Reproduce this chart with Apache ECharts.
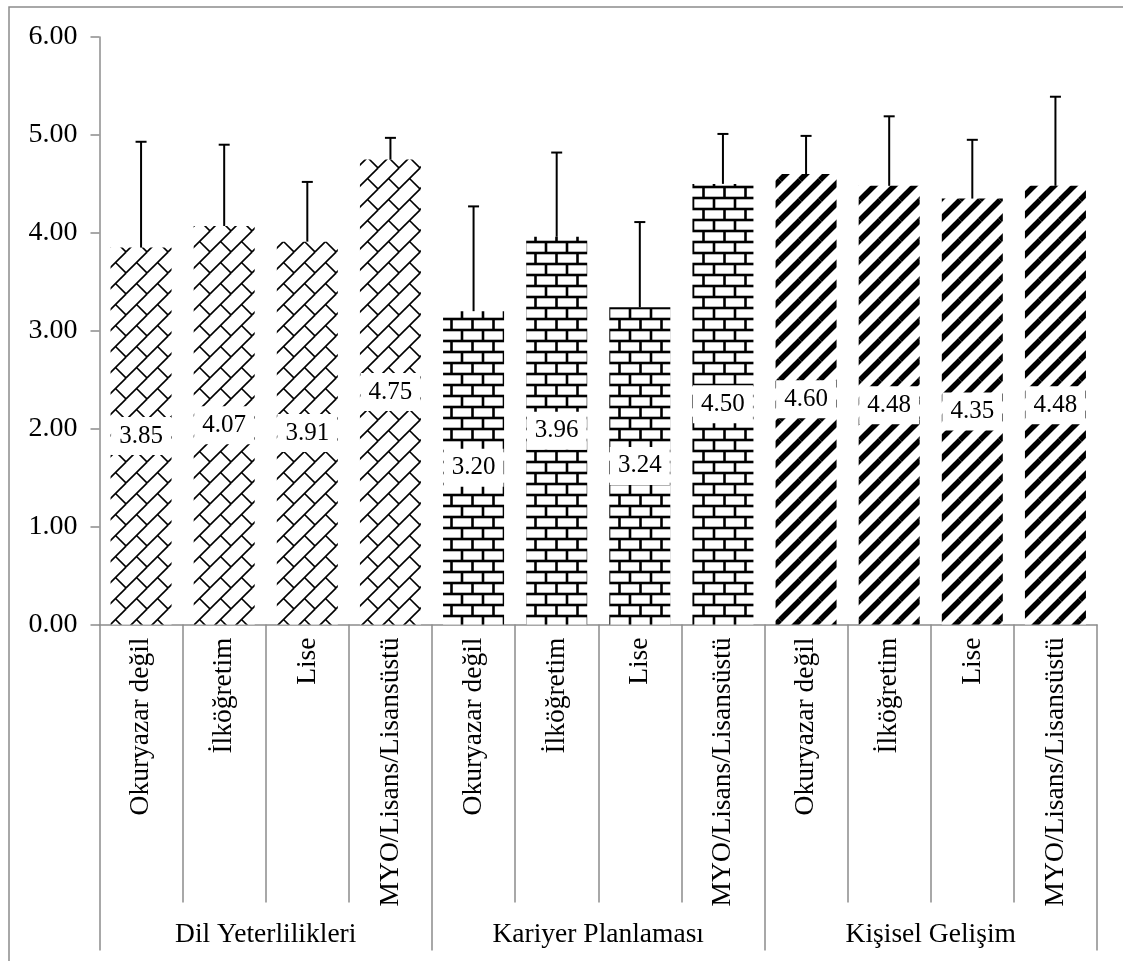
<!DOCTYPE html>
<html>
<head>
<meta charset="utf-8">
<script src="https://cdn.jsdelivr.net/npm/echarts@6/dist/echarts.min.js"></script>
<style>
  html, body { margin: 0; padding: 0; background: #fff; }
  #chart { width: 1123px; height: 961px; }
</style>
</head>
<body>
<div id="chart"></div>
<script>
// veriler
const groups = ['Dil Yeterlilikleri', 'Kariyer Planlaması', 'Kişisel Gelişim'];
const levels = ['Okuryazar değil', 'İlköğretim', 'Lise', 'MYO/Lisans/Lisansüstü'];
const means = [3.85, 4.07, 3.91, 4.75, 3.20, 3.96, 3.24, 4.50, 4.60, 4.48, 4.35, 4.48];
const sds = [1.08, 0.83, 0.61, 0.22, 1.07, 0.86, 0.87, 0.51, 0.39, 0.71, 0.60, 0.91];
const yTicks = [0, 1, 2, 3, 4, 5, 6];

const categories = [];
groups.forEach(() => levels.forEach(l => categories.push(l)));

const FONT = '"Liberation Serif", "Times New Roman", serif';
const GRAY = '#8c8c8c';

// desen dokuları
function makeTile(w, h, draw) {
  const c = document.createElement('canvas');
  c.width = w; c.height = h;
  const ctx = c.getContext('2d');
  ctx.fillStyle = '#fff';
  ctx.fillRect(0, 0, w, h);
  ctx.strokeStyle = '#000';
  draw(ctx, w, h);
  return c;
}
function seg(ctx, w, h, x1, y1, x2, y2) {
  // kenarlarda kesilmesin diye komşu kopyaları da çiz
  for (let dx = -1; dx <= 1; dx++) {
    for (let dy = -1; dy <= 1; dy++) {
      ctx.beginPath();
      ctx.moveTo(x1 + dx * w, y1 + dy * h);
      ctx.lineTo(x2 + dx * w, y2 + dy * h);
      ctx.stroke();
    }
  }
}
const diagBrick = makeTile(21, 21, (ctx, w, h) => {
  ctx.lineWidth = 1.6;
  seg(ctx, w, h, 0, h, w, 0);
  seg(ctx, w, h, w / 2, h / 2, w, h);
});
const horizBrick = makeTile(21, 22, (ctx, w, h) => {
  ctx.lineWidth = 2.6;
  seg(ctx, w, h, 0, 0, w, 0);
  seg(ctx, w, h, 0, h / 2, w, h / 2);
  seg(ctx, w, h, 0, 0, 0, h / 2);
  seg(ctx, w, h, w / 2, h / 2, w / 2, h);
});
const wideDiag = makeTile(20, 20, (ctx, w, h) => {
  ctx.lineWidth = 5.5;
  seg(ctx, w, h, 0, h, w, 0);
});
const patterns = [diagBrick, horizBrick, wideDiag];

const barData = means.map((v, i) => ({
  value: v,
  itemStyle: { color: { image: patterns[Math.floor(i / levels.length)], repeat: 'repeat' } }
}));
const errData = means.map((v, i) => [i, v, sds[i]]);

const myChart = echarts.init(document.getElementById('chart'));
myChart.setOption({
  animation: false,
  backgroundColor: '#fff',
  graphic: [{
    type: 'rect',
    shape: { x: 9, y: 7, width: 1300, height: 1100 },
    style: { fill: 'none', stroke: GRAY, lineWidth: 1.5 },
    silent: true
  }],
  grid: { left: 99.5, right: 26, top: 37, bottom: 336.5 },
  xAxis: [
    {
      type: 'category',
      data: categories,
      axisLine: { show: true, lineStyle: { color: GRAY, width: 1.5 } },
      axisTick: { show: true, interval: 0, length: 278, lineStyle: { color: GRAY, width: 1.5 } },
      axisLabel: {
        interval: 0, rotate: 90, margin: 13,
        color: '#000', fontFamily: FONT, fontSize: 27.5
      }
    },
    {
      type: 'category',
      position: 'bottom',
      data: groups,
      axisLine: { show: false },
      axisTick: { show: true, interval: 0, length: 326, lineStyle: { color: GRAY, width: 1.5 } },
      axisLabel: {
        interval: 0, margin: 296, verticalAlign: 'top',
        color: '#000', fontFamily: FONT, fontSize: 27.5
      }
    }
  ],
  yAxis: {
    type: 'value',
    min: yTicks[0], max: yTicks[yTicks.length - 1], interval: 1,
    splitLine: { show: false },
    axisLine: { show: true, lineStyle: { color: GRAY, width: 1.5 } },
    axisTick: { show: true, length: 9, lineStyle: { color: GRAY, width: 1.5 } },
    axisLabel: {
      margin: 22, color: '#000', fontFamily: FONT, fontSize: 28,
      formatter: v => v.toFixed(2)
    }
  },
  series: [
    {
      type: 'bar',
      xAxisIndex: 0,
      data: barData,
      barWidth: 61,
      label: {
        show: true,
        position: 'inside',
        formatter: p => p.value.toFixed(2),
        color: '#000',
        fontFamily: FONT,
        fontSize: 25,
        backgroundColor: '#fff',
        width: 58,
        height: 38,
        lineHeight: 38,
        align: 'center',
        padding: [0, 1]
      }
    },
    {
      type: 'custom',
      xAxisIndex: 0,
      data: errData,
      z: 5,
      clip: false,
      renderItem: (params, api) => {
        const i = api.value(0);
        const v = api.value(1);
        const sd = api.value(2);
        const p0 = api.coord([i, v]);
        const p1 = api.coord([i, v + sd]);
        const st = { stroke: '#000', lineWidth: 2 };
        return {
          type: 'group',
          children: [
            { type: 'line', shape: { x1: p0[0], y1: p0[1], x2: p1[0], y2: p1[1] }, style: st },
            { type: 'line', shape: { x1: p1[0] - 5.5, y1: p1[1], x2: p1[0] + 5.5, y2: p1[1] }, style: st }
          ]
        };
      }
    }
  ]
});
window.onresize = function () {
  myChart.resize();
};
</script>
</body>
</html>
